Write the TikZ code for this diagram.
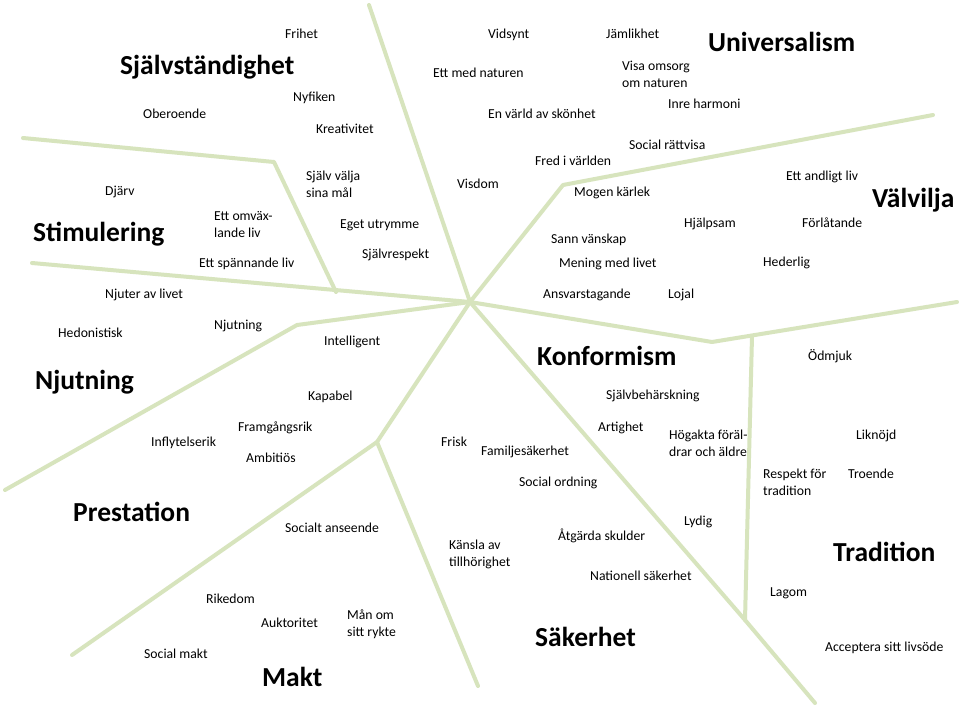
\documentclass[tikz,border=0pt]{standalone}
\usepackage{fontspec}
\setmainfont{Carlito}
\definecolor{linegreen}{HTML}{D7E4BD}
\begin{document}
\begin{tikzpicture}[x=1pt,y=-1pt,
  lbl/.style={anchor=base west,inner sep=0pt,align=left,font=\fontsize{13.7}{17}\selectfont},
  ttl/.style={anchor=base west,inner sep=0pt,font=\fontsize{27.5}{30}\selectfont\bfseries},
  sep/.style={draw=linegreen,line width=4pt,line join=round,line cap=round}]
\fill[white] (0,0) rectangle (960,706);
\useasboundingbox (0,0) rectangle (960,706);
% line vertices
\coordinate (C) at (470,302);
\coordinate (T) at (369,5);
\coordinate (La) at (23,138);
\coordinate (Lb) at (274,162);
\coordinate (Lc) at (336,292);
\coordinate (Ld) at (32,263);
\coordinate (Na) at (297,325);
\coordinate (Nb) at (5,490);
\coordinate (Ma) at (377,442);
\coordinate (Mb) at (72,655);
\coordinate (Mc) at (478,686);
\coordinate (Ka) at (745,620);
\coordinate (Kb) at (815,703);
\coordinate (Va) at (752,336);
\coordinate (Ra) at (712,342);
\coordinate (Rb) at (957,302);
\coordinate (Ua) at (563,185);
\coordinate (Ub) at (933,115);
% separators
\draw[sep] (T) -- (C);
\draw[sep] (La) -- (Lb) -- (Lc);
\draw[sep] (Ld) -- (C);
\draw[sep] (C) -- (Na) -- (Nb);
\draw[sep] (C) -- (Ma) -- (Mb);
\draw[sep] (Ma) -- (Mc);
\draw[sep] (C) -- (Ka) -- (Kb);
\draw[sep] (Va) -- (Ka);
\draw[sep] (C) -- (Ra) -- (Rb);
\draw[sep] (C) -- (Ua) -- (Ub);
% titles
\node[ttl] (t1) at (120,75) {Självständighet};
\node[ttl] (t2) at (708,52) {Universalism};
\node[ttl] (t3) at (33,241) {Stimulering};
\node[ttl] (t4) at (872,207) {Välvilja};
\node[ttl] (t5) at (35,389) {Njutning};
\node[ttl] (t6) at (537,365) {Konformism};
\node[ttl] (t7) at (73,521) {Prestation};
\node[ttl] (t8) at (833,561) {Tradition};
\node[ttl] (t9) at (535,646) {Säkerhet};
\node[ttl] (t10) at (262,686) {Makt};
% values (multi-line nodes are placed by the baseline of their last line)
\node[lbl] (v1) at (285,39) {Frihet};
\node[lbl] (v2) at (293,102) {Nyfiken};
\node[lbl] (v3) at (143,118) {Oberoende};
\node[lbl] (v4) at (316,133) {Kreativitet};
\node[lbl] (v5) at (105,195) {Djärv};
\node[lbl] (v6) at (214,237) {Ett omväx-\\lande liv};
\node[lbl] (v7) at (199,267) {Ett spännande liv};
\node[lbl] (v8) at (105,298) {Njuter av livet};
\node[lbl] (v9) at (58,337) {Hedonistisk};
\node[lbl] (v10) at (214,329) {Njutning};
\node[lbl] (v11) at (306,197) {Själv välja\\sina mål};
\node[lbl] (v12) at (340,228) {Eget utrymme};
\node[lbl] (v13) at (362,258) {Självrespekt};
\node[lbl] (v14) at (488,39) {Vidsynt};
\node[lbl] (v15) at (606,39) {Jämlikhet};
\node[lbl] (v16) at (433,78) {Ett med naturen};
\node[lbl] (v17) at (622,88) {Visa omsorg\\om naturen};
\node[lbl] (v18) at (488,118) {En värld av skönhet};
\node[lbl] (v19) at (668,109) {Inre harmoni};
\node[lbl] (v20) at (629,149) {Social rättvisa};
\node[lbl] (v21) at (535,165) {Fred i världen};
\node[lbl] (v22) at (457,188) {Visdom};
\node[lbl] (v23) at (574,196) {Mogen kärlek};
\node[lbl] (v24) at (551,243) {Sann vänskap};
\node[lbl] (v25) at (559,267) {Mening med livet};
\node[lbl] (v26) at (543,298) {Ansvarstagande};
\node[lbl] (v27) at (668,298) {Lojal};
\node[lbl] (v28) at (786,180) {Ett andligt liv};
\node[lbl] (v29) at (684,227) {Hjälpsam};
\node[lbl] (v30) at (802,227) {Förlåtande};
\node[lbl] (v31) at (763,266) {Hederlig};
\node[lbl] (v32) at (324,345) {Intelligent};
\node[lbl] (v33) at (308,400) {Kapabel};
\node[lbl] (v34) at (808,360) {Ödmjuk};
\node[lbl] (v35) at (606,399) {Självbehärskning};
\node[lbl] (v36) at (598,431) {Artighet};
\node[lbl] (v37) at (669,456) {Högakta föräl-\\drar och äldre};
\node[lbl] (v38) at (856,439) {Liknöjd};
\node[lbl] (v39) at (763,495) {Respekt för\\tradition};
\node[lbl] (v40) at (848,478) {Troende};
\node[lbl] (v41) at (151,446) {Inflytelserik};
\node[lbl] (v42) at (238,431) {Framgångsrik};
\node[lbl] (v43) at (246,462) {Ambitiös};
\node[lbl] (v44) at (441,446) {Frisk};
\node[lbl] (v45) at (481,455) {Familjesäkerhet};
\node[lbl] (v46) at (519,486) {Social ordning};
\node[lbl] (v47) at (684,525) {Lydig};
\node[lbl] (v48) at (285,532) {Socialt anseende};
\node[lbl] (v49) at (449,566) {Känsla av\\tillhörighet};
\node[lbl] (v50) at (558,540) {Åtgärda skulder};
\node[lbl] (v51) at (590,580) {Nationell säkerhet};
\node[lbl] (v52) at (770,596) {Lagom};
\node[lbl] (v53) at (206,603) {Rikedom};
\node[lbl] (v54) at (261,627) {Auktoritet};
\node[lbl] (v55) at (347,636) {Mån om\\sitt rykte};
\node[lbl] (v56) at (144,658) {Social makt};
\node[lbl] (v57) at (825,651) {Acceptera sitt livsöde};
\end{tikzpicture}
\end{document}
